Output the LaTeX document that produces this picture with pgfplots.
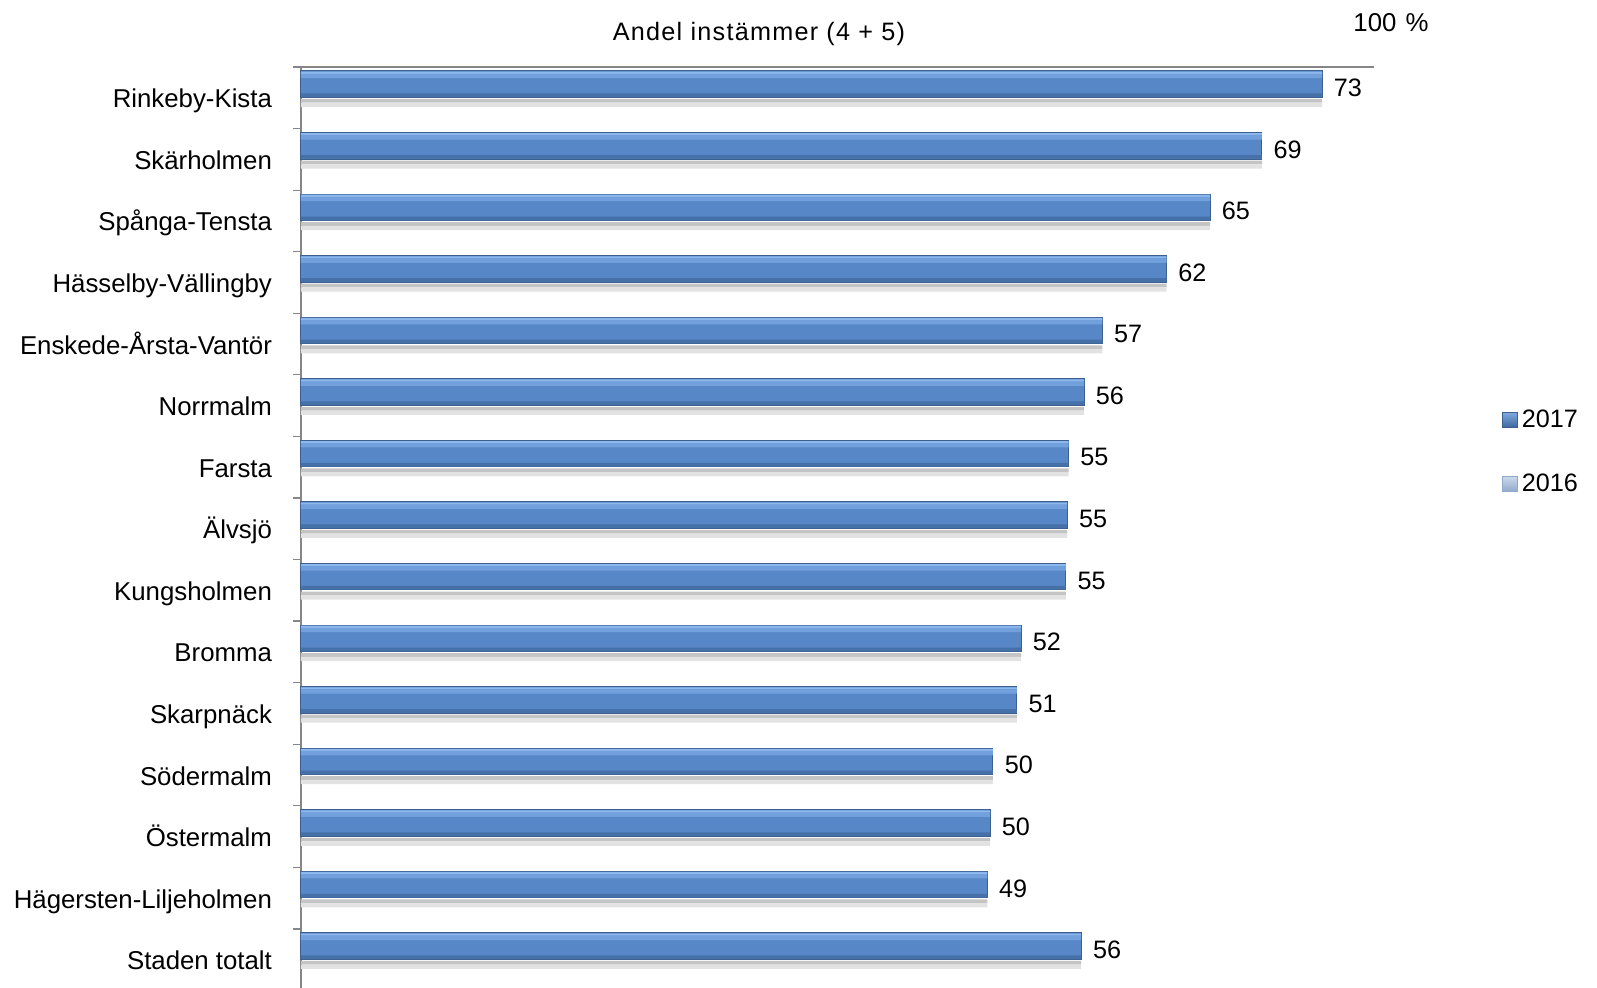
\documentclass[border=0pt]{standalone}
\usepackage{pgfplots}
\pgfplotsset{compat=1.18}
\usepackage{pgfplotstable}
\usepackage{fontspec}
\setmainfont{Liberation Sans}

\definecolor{barmid}{HTML}{5787C6}
\definecolor{barhi}{HTML}{8DB8EE}
\definecolor{barhi2}{HTML}{72A0DC}
\definecolor{barlo}{HTML}{4670A8}
\definecolor{bardraw}{HTML}{3D5F8E}
\definecolor{shad1}{HTML}{C4C4C4}
\definecolor{shad2}{HTML}{E2E2E2}
\definecolor{axgray}{HTML}{868686}
\definecolor{legtop}{HTML}{C9D8EA}
\definecolor{legbot}{HTML}{8EA9CB}
\definecolor{leg17top}{HTML}{7FAAE0}
\definecolor{leg17bot}{HTML}{3F679F}

\pgfplotstableread{
y x lab
14 72.9 73
13 68.6 69
12 64.9 65
11 61.8 62
10 57.2 57
9 55.9 56
8 54.8 55
7 54.7 55
6 54.6 55
5 51.4 52
4 51.1 51
3 49.4 50
2 49.2 50
1 49.0 49
0 55.7 56
}\datatable

\newcommand{\chartfont}{\fontsize{12.6}{15}\selectfont}
\newcommand{\labfont}{\fontsize{12.9}{15}\selectfont}

\begin{document}
\begin{tikzpicture}
\useasboundingbox (0,0) rectangle (798.5pt,494pt);
\begin{axis}[
  at={(150.5pt,-1.25pt)}, anchor=south west,
  width=536.5pt, height=461.75pt, scale only axis,
  xmin=0, xmax=76.6, ymin=-0.5, ymax=14.5,
  clip=false,
  axis x line*=top, axis y line*=left,
  axis line style={axgray, line width=0.6pt},
  xtick=\empty,
  ytick={0,...,14},
  yticklabels={Staden totalt, Hägersten-Liljeholmen, Östermalm, Södermalm, Skarpnäck, Bromma, Kungsholmen, Älvsjö, Farsta, Norrmalm, Enskede-Årsta-Vantör, Hässelby-Vällingby, Spånga-Tensta, Skärholmen, Rinkeby-Kista},
  major tick length=0pt,
  minor ytick={-0.5,0.5,...,14.5},
  minor tick length=4pt,
  tick align=outside,
  tick style={axgray, line width=0.6pt},
  yticklabel style={font=\labfont, anchor=base east, xshift=-11pt, yshift=-5pt, text=black},
  legend style={at={(rel axis cs:1.119,0.583)}, anchor=west, draw=none, fill=none,
    font=\chartfont, inner sep=0pt, row sep=18pt,
    nodes={inner sep=2pt}, cells={anchor=west}},
]
% 2017 bars (base)
\addplot[xbar, bar width=0.43, bar shift=0.22, draw=bardraw, line width=0.5pt,
  fill=barmid,
  nodes near coords, point meta=explicit symbolic,
  every node near coord/.append style={anchor=west, xshift=2.3pt, yshift=4.9pt,
    font=\chartfont, text=black},
  legend image code/.code={\draw[draw=bardraw, line width=0.4pt, top color=leg17top, bottom color=leg17bot]
    (0pt,-3.75pt) rectangle (7.5pt,3.75pt);}]
  table[x=x, y=y, meta=lab]{\datatable};
\addlegendentry{2017}
% bar highlights
\addplot[xbar, bar width=0.035, bar shift=0.4075, draw=none, fill=barhi, forget plot]
  table[x=x, y=y]{\datatable};
\addplot[xbar, bar width=0.07, bar shift=0.355, draw=none, fill=barhi2, forget plot]
  table[x=x, y=y]{\datatable};
\addplot[xbar, bar width=0.06, bar shift=0.04, draw=none, fill=barlo, forget plot]
  table[x=x, y=y]{\datatable};
% shadow under each bar
\addplot[xbar, bar width=0.06, bar shift=-0.05, draw=none, fill=shad1, forget plot]
  table[x=x, y=y]{\datatable};
\addplot[xbar, bar width=0.07, bar shift=-0.115, draw=none, fill=shad2, forget plot]
  table[x=x, y=y]{\datatable};
\addlegendimage{legend image code/.code={\draw[draw=legbot, line width=0.4pt, top color=legtop, bottom color=legbot]
    (0pt,-3.75pt) rectangle (7.5pt,3.75pt);}}
\addlegendentry{2016}
\node[anchor=base, font=\chartfont\addfontfeatures{LetterSpace=5}] at (rel axis cs:0.4268,1) [yshift=13pt] {Andel instämmer (4 + 5)};
\node[anchor=base, font=\labfont] at (rel axis cs:1.0158,1) [yshift=17.5pt] {100\hspace{0.35em}\%};
\end{axis}
\end{tikzpicture}
\end{document}
